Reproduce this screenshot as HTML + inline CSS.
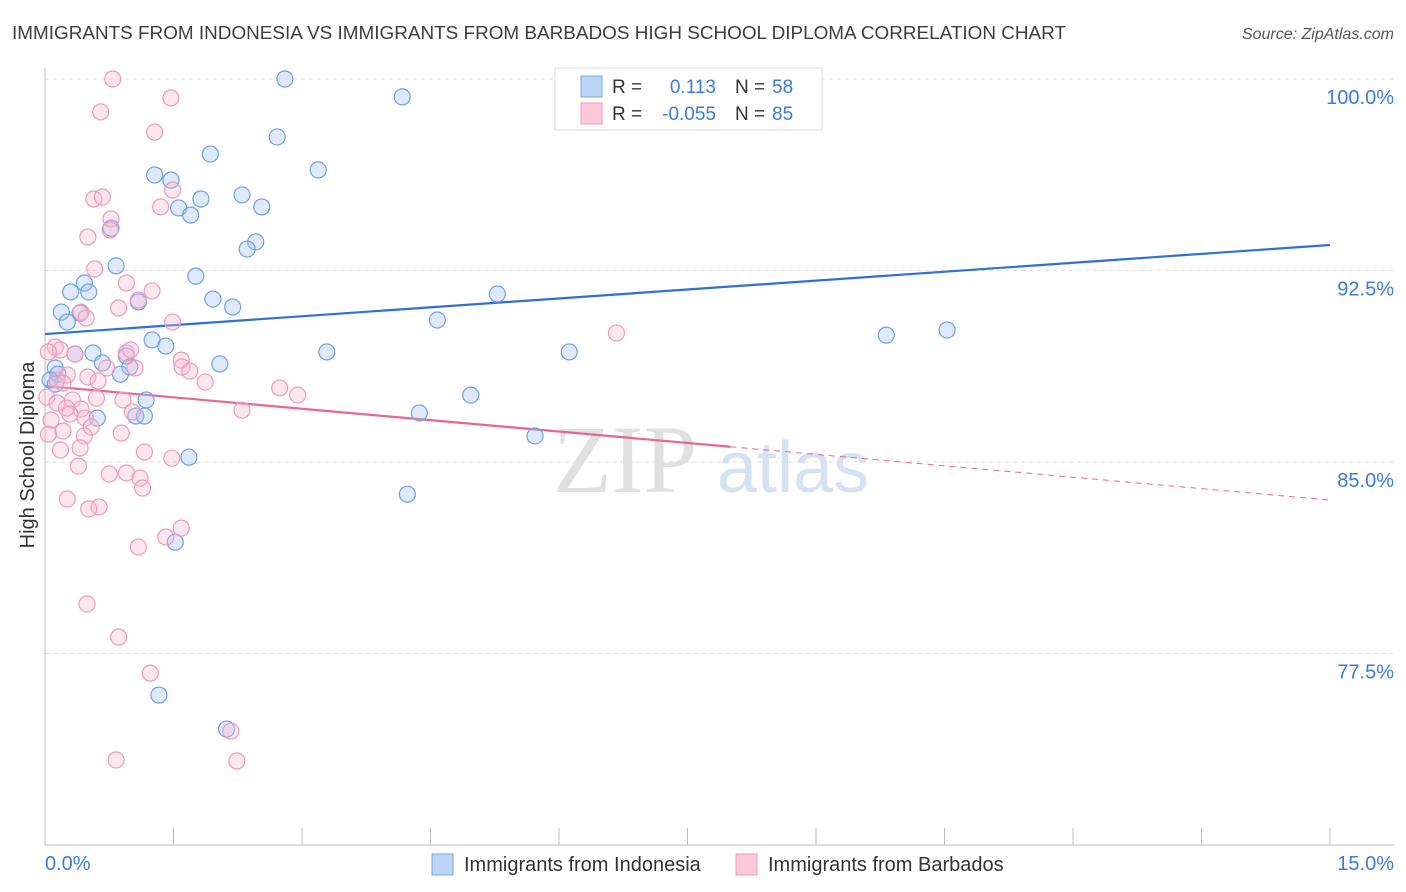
<!DOCTYPE html>
<html><head><meta charset="utf-8"><style>
body{margin:0;background:#fff;font-family:"Liberation Sans",sans-serif;}
svg{display:block}
</style></head><body>
<svg id="chart" width="1406" height="892">
<text x="12" y="39" font-size="18" fill="#3d3d3d" textLength="1054" lengthAdjust="spacingAndGlyphs">IMMIGRANTS FROM INDONESIA VS IMMIGRANTS FROM BARBADOS HIGH SCHOOL DIPLOMA CORRELATION CHART</text>
<text x="1394" y="39" font-size="16" fill="#555" font-style="italic" text-anchor="end">Source: ZipAtlas.com</text>
<g>
<text x="553" y="492" font-family="Liberation Serif,serif" font-size="96" fill="#d4d4d4" opacity="0.7">ZIP</text>
<text x="717" y="492" font-size="72" fill="#b8d0ee" opacity="0.6">atlas</text>
</g>
<g id="grid"></g>
<g id="axes"></g>
<g id="lines"></g>
<g id="pts"></g>
<text transform="translate(34,455) rotate(-90)" font-size="20" fill="#333" text-anchor="middle">High School Diploma</text>
<text x="45" y="870" font-size="20" fill="#3d7bd9">0.0%</text>
<text x="1394" y="870" font-size="20" fill="#3d7bd9" text-anchor="end">15.0%</text>
<g>
<rect x="555" y="68" width="267" height="62" fill="#fff" stroke="#ddd"/>
<rect x="581" y="76" width="21" height="21" fill="#bcd4f5" stroke="#7aa7e6"/>
<text x="612" y="93" font-size="19" fill="#333">R =</text>
<text x="716" y="93" font-size="19" fill="#3d7bd9" text-anchor="end">0.113</text>
<text x="735" y="93" font-size="19" fill="#333">N =</text>
<text x="772" y="93" font-size="19" fill="#3d7bd9">58</text>
<rect x="581" y="103" width="21" height="21" fill="#fbcad8" stroke="#f09ab8"/>
<text x="612" y="120" font-size="19" fill="#333">R =</text>
<text x="716" y="120" font-size="19" fill="#3d7bd9" text-anchor="end">-0.055</text>
<text x="735" y="120" font-size="19" fill="#333">N =</text>
<text x="772" y="120" font-size="19" fill="#3d7bd9">85</text>
</g>
<g>
<rect x="432" y="854" width="21" height="21" fill="#bcd4f5" stroke="#7aa7e6"/>
<text x="464" y="871" font-size="20" fill="#333">Immigrants from Indonesia</text>
</g>
<g>
<rect x="736" y="854" width="21" height="21" fill="#fbcad8" stroke="#f09ab8"/>
<text x="768" y="871" font-size="20" fill="#333">Immigrants from Barbados</text>
</g>
</svg>
<script>
const yTicks=[100,92.5,85,77.5];
const yTickLabels=["100.0%","92.5%","85.0%","77.5%"];
const xTicks=[0,1.5,3,4.5,6,7.5,9,10.5,12,13.5,15];
const blueX=[2.80,4.17,2.71,1.93,3.19,1.28,1.47,2.30,1.82,1.56,2.53,1.70,0.77,2.46,2.36,0.83,1.76,0.46,0.30,0.51,1.96,1.09,2.19,5.28,0.19,0.41,0.26,4.58,9.82,10.53,1.25,1.41,0.35,0.56,3.29,6.12,2.04,0.67,0.95,0.99,0.88,0.12,0.15,0.06,0.12,4.97,1.18,4.37,0.61,1.06,1.16,5.72,1.68,4.23,1.52,1.33,2.12,8.93];
const blueY=[100.00,99.30,97.73,97.06,96.44,96.24,96.04,95.46,95.30,94.95,94.99,94.67,94.16,93.62,93.34,92.68,92.28,92.01,91.66,91.66,91.38,91.27,91.07,91.58,90.87,90.83,90.48,90.56,89.97,90.17,89.78,89.54,89.23,89.27,89.31,89.31,88.84,88.88,89.15,88.72,88.44,88.68,88.44,88.21,88.05,87.62,87.43,86.92,86.72,86.80,86.80,86.02,85.19,83.74,81.86,75.87,74.54,98.67];
const pinkX=[0.79,1.47,0.65,1.28,1.49,0.57,0.67,1.35,0.77,0.76,0.50,0.58,0.95,1.25,1.09,0.86,0.42,0.48,1.49,6.67,0.12,0.18,0.04,0.35,0.95,1.59,1.00,1.60,1.69,1.05,0.72,0.26,0.50,0.14,0.21,0.62,1.87,2.74,2.95,0.02,0.32,0.60,0.91,0.14,0.25,0.42,1.02,2.30,0.29,0.47,0.07,0.54,0.46,0.21,0.89,0.04,0.18,1.16,0.41,1.48,0.39,0.95,0.75,1.11,1.14,0.26,0.63,0.51,1.59,1.41,1.09,0.49,0.86,1.23,2.17,0.83,2.24];
const pinkY=[100.00,99.26,98.71,97.92,95.65,95.30,95.38,94.99,94.52,94.09,93.81,92.56,92.01,91.70,91.34,91.03,90.87,90.64,90.48,90.05,89.50,89.39,89.31,89.23,89.27,88.99,89.39,88.72,88.56,88.68,88.68,88.41,88.33,88.21,88.09,88.17,88.13,87.90,87.62,87.54,87.43,87.50,87.43,87.31,87.11,87.07,86.96,87.03,86.88,86.72,86.64,86.37,86.02,86.21,86.13,86.09,85.47,85.39,85.55,85.15,84.84,84.57,84.53,84.37,83.98,83.55,83.24,83.16,82.41,82.06,81.67,79.44,78.14,76.73,74.46,73.33,73.29];
const blueTrend=[90.01,93.50];
const pinkTrend=[87.98,83.51];
const pinkSolidEnd=8.0;
const NS="http://www.w3.org/2000/svg";
const sx=v=>45+v*(1285/15);
const sy=v=>79+(100-v)*(191.5/7.5);
function mk(t,a,p){const e=document.createElementNS(NS,t);for(const k in a)e.setAttribute(k,a[k]);p.appendChild(e);return e;}
const grid=document.getElementById('grid'),axes=document.getElementById('axes'),lines=document.getElementById('lines'),pts=document.getElementById('pts');
yTicks.forEach((t,i)=>{
 const l=mk('line',{x1:45,x2:1394,y1:sy(t),y2:sy(t),stroke:'#ddd','stroke-dasharray':'4,4'},grid);
 
 
 const tx=mk('text',{x:1394,y:sy(t)+25,'font-size':20,fill:'#3d7bd9','text-anchor':'end'},grid);
 tx.textContent=yTickLabels[i];
 
 
});
const ya=mk('line',{x1:45,x2:45,y1:68,y2:845,stroke:'#bbb'},axes);


const xa=mk('line',{x1:45,x2:1394,y1:845,y2:845,stroke:'#bbb'},axes);


xTicks.forEach(t=>{
 const l=mk('line',{x1:sx(t),x2:sx(t),y1:828,y2:845,stroke:'#bbb'},axes);
 
 
});
function dots(X,Y,fill,stroke,name){X.forEach((x,i)=>{
 const c=mk('circle',{cx:sx(x),cy:sy(Y[i]),r:8,fill:fill,stroke:stroke,'stroke-width':1.2},pts);
 
 
});}
dots(blueX,blueY,'rgba(160,195,240,0.35)','#6fa0e3','indonesia-point');
dots(pinkX,pinkY,'rgba(248,185,205,0.35)','#f09ab8','barbados-point');
const bl=mk('line',{x1:sx(0),y1:sy(blueTrend[0]),x2:sx(15),y2:sy(blueTrend[1]),stroke:'#2f6fd6','stroke-width':2.2},lines);


const pAt=x=>pinkTrend[0]+(pinkTrend[1]-pinkTrend[0])*x/15;
const pl=mk('line',{x1:sx(0),y1:sy(pinkTrend[0]),x2:sx(pinkSolidEnd),y2:sy(pAt(pinkSolidEnd)),stroke:'#e8668f','stroke-width':2.2},lines);


const pd=mk('line',{x1:sx(pinkSolidEnd),y1:sy(pAt(pinkSolidEnd)),x2:sx(15),y2:sy(pinkTrend[1]),stroke:'#e8668f','stroke-width':1,'stroke-dasharray':'6,5'},lines);


</script>
</body></html>
